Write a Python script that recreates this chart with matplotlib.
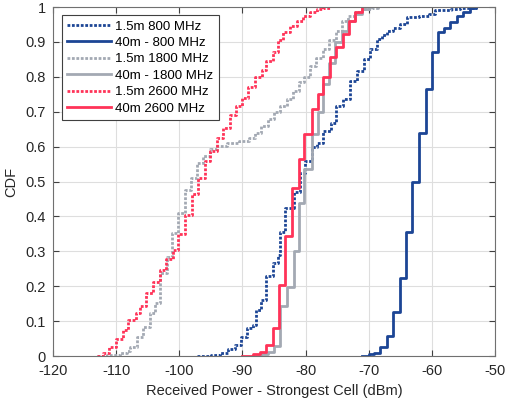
import numpy as np
import matplotlib
matplotlib.use("Agg")
import matplotlib.pyplot as plt

plt.rcParams['font.family'] = ['Liberation Sans', 'DejaVu Sans']
plt.rcParams['axes.unicode_minus'] = False

# step positions (dBm) and CDF levels
x_15m_800 = [-97.2, -95.0, -93.5, -92.3, -91.2, -90.3, -89.3, -88.3, -87.9, -87.0,
             -86.3, -85.1, -84.4, -84.0, -83.2, -81.8, -80.9, -80.1, -79.0, -78.2,
             -77.3, -75.9, -75.1, -74.0, -73.0, -71.9, -70.8, -69.8, -68.7, -67.9,
             -67.1, -66.2, -65.0, -64.0, -62.0, -60.5, -59.5, -57.0, -55.5, -53.0]
y_15m_800 = [0, 0.003, 0.008, 0.02, 0.032, 0.055, 0.08, 0.09, 0.132, 0.16,
             0.228, 0.267, 0.29, 0.355, 0.424, 0.47, 0.525, 0.558, 0.60, 0.611,
             0.645, 0.669, 0.716, 0.736, 0.787, 0.817, 0.85, 0.879, 0.908, 0.92,
             0.93, 0.94, 0.95, 0.97, 0.975, 0.98, 0.99, 0.995, 0.998, 1.0]

x_40m_800 = [-71.1, -70.0, -69.1, -68.2, -67.1, -66.1, -65.1, -64.1, -63.1, -62.1,
             -61.0, -60.0, -59.1, -58.1, -57.1, -56.0, -55.0, -53.9, -53.0]
y_40m_800 = [0, 0.005, 0.01, 0.027, 0.058, 0.127, 0.223, 0.355, 0.50, 0.64,
             0.764, 0.87, 0.927, 0.94, 0.956, 0.973, 0.986, 0.997, 1.0]

x_15m_1800 = [-113.0, -111.5, -109.4, -108.3, -107.8, -106.7, -105.7, -104.6, -103.8, -103.0,
              -102.0, -101.2, -100.2, -99.1, -98.2, -97.2, -96.2, -95.1, -94.1, -92.5,
              -90.5, -89.0, -88.0, -87.0, -86.0, -85.0, -84.0, -83.0, -82.0, -81.0,
              -80.2, -79.3, -78.3, -77.3, -76.3, -75.2, -74.2, -73.2, -72.2, -71.0,
              -69.5, -68.5]
y_15m_1800 = [0, 0.003, 0.01, 0.015, 0.027, 0.055, 0.084, 0.123, 0.151, 0.238,
              0.285, 0.352, 0.41, 0.477, 0.51, 0.553, 0.573, 0.592, 0.601, 0.611,
              0.616, 0.625, 0.64, 0.66, 0.68, 0.70, 0.715, 0.735, 0.76, 0.785,
              0.80, 0.83, 0.855, 0.88, 0.905, 0.93, 0.96, 0.975, 0.985, 0.993,
              0.998, 1.0]

x_40m_1800 = [-88.0, -87.0, -86.0, -85.0, -84.1, -83.0, -81.9, -81.0, -80.2, -78.9,
              -78.0, -77.2, -76.3, -75.3, -74.3, -73.2, -72.2, -71.1, -70.0]
y_40m_1800 = [0, 0.005, 0.012, 0.03, 0.142, 0.199, 0.30, 0.439, 0.536, 0.635,
              0.70, 0.78, 0.84, 0.90, 0.93, 0.96, 0.98, 0.995, 1.0]

x_15m_2600 = [-113.1, -112.1, -111.1, -110.0, -108.9, -108.1, -106.9, -106.2, -105.2, -104.2,
              -103.1, -102.1, -101.0, -100.2, -99.1, -98.0, -97.0, -95.9, -95.1, -94.1,
              -93.0, -92.0, -91.0, -90.1, -89.1, -88.0, -86.9, -86.2, -85.1, -84.3,
              -83.5, -82.5, -81.4, -80.4, -79.3, -78.2, -77.2, -76.1]
y_15m_2600 = [0, 0.008, 0.027, 0.05, 0.075, 0.103, 0.123, 0.142, 0.18, 0.212,
              0.247, 0.278, 0.305, 0.35, 0.405, 0.463, 0.51, 0.558, 0.587, 0.625,
              0.654, 0.69, 0.716, 0.74, 0.77, 0.80, 0.82, 0.846, 0.87, 0.905,
              0.927, 0.946, 0.96, 0.975, 0.985, 0.994, 0.997, 1.0]

x_40m_2600 = [-90.1, -88.3, -87.2, -86.2, -85.1, -84.2, -83.3, -82.2, -81.1, -80.2,
              -79.0, -78.0, -77.2, -76.1, -75.1, -74.1, -73.1, -72.2, -71.1]
y_40m_2600 = [0, 0.005, 0.012, 0.032, 0.08, 0.204, 0.345, 0.48, 0.565, 0.635,
              0.707, 0.75, 0.80, 0.858, 0.884, 0.922, 0.96, 0.985, 1.0]

labels = ['1.5m 800 MHz', '40m - 800 MHz', '1.5m 1800 MHz',
          '40m - 1800 MHz', '1.5m 2600 MHz', '40m 2600 MHz']

blue = '#1c4595'
gray = '#a3a9b3'
red = '#ff3358'
dots = (0, (1.0, 0.6))

fig = plt.figure(figsize=(5.06, 4.07), dpi=100)
ax = fig.add_axes([0.1047, 0.1253, 0.8735, 0.8575])

series = [
    (x_15m_800, y_15m_800, blue, dots),
    (x_40m_800, y_40m_800, blue, '-'),
    (x_15m_1800, y_15m_1800, gray, dots),
    (x_40m_1800, y_40m_1800, gray, '-'),
    (x_15m_2600, y_15m_2600, red, dots),
    (x_40m_2600, y_40m_2600, red, '-'),
]
for (xs, ys, c, ls), lab in zip(series, labels):
    ax.plot(xs, ys, drawstyle='steps-post', color=c, linestyle=ls,
            lw=2.0, label=lab)

ax.set_xlim(-120, -50)
ax.set_ylim(0, 1)
ax.set_xticks(np.arange(-120, -49, 10))
ax.set_yticks(np.arange(0, 1.01, 0.1))
ax.set_yticklabels(['0', '0.1', '0.2', '0.3', '0.4', '0.5', '0.6', '0.7', '0.8', '0.9', '1'])
ax.grid(True, color='#dedede', lw=0.8)
ax.set_axisbelow(True)
ax.tick_params(direction='in', top=True, right=True, length=4, labelsize=10.5,
               color='#404040', labelcolor='#262626')
ax.tick_params(axis='x', pad=6)
ax.tick_params(axis='y', pad=5)
for sp in ax.spines.values():
    sp.set_color('#707070')
    sp.set_linewidth(0.8)

ax.set_xlabel('Received Power - Strongest Cell (dBm)', fontsize=10.5, color='#262626', labelpad=4)
ax.set_ylabel('CDF', fontsize=10.5, color='#262626', labelpad=5)

leg = ax.legend(loc='upper left', bbox_to_anchor=(0.02, 0.977), borderaxespad=0,
                fontsize=9.5, handlelength=3.3, handletextpad=0.35, labelspacing=0.32,
                borderpad=0.4, fancybox=False, framealpha=1)
leg.get_frame().set_edgecolor('#404040')
leg.get_frame().set_linewidth(0.8)

fig.savefig('out.png', dpi=100)
